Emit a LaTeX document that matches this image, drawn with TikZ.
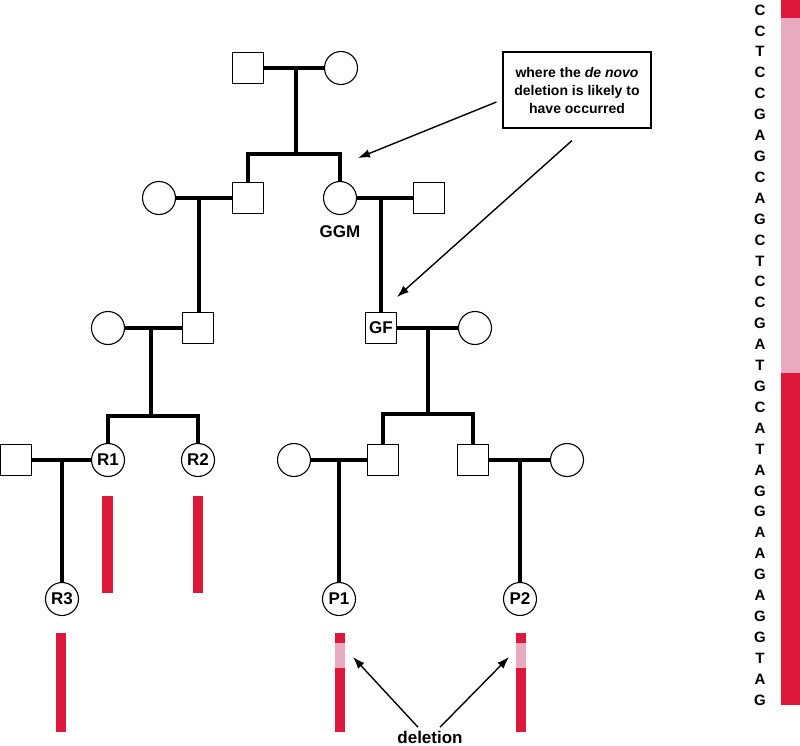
\documentclass[tikz,border=0pt]{standalone}
\usepackage{fontspec}
\setmainfont{Liberation Sans}
\usetikzlibrary{arrows.meta, calc}
\definecolor{segred}{RGB}{221,24,58}
\definecolor{segpink}{RGB}{233,170,192}

\begin{document}
\begin{tikzpicture}[
    x=1pt, y=-1pt,
    >={Latex[length=12pt,width=8.5pt]},
    every node/.style={font=\bfseries\fontsize{17}{18}\selectfont},
    male/.style={draw, line width=1.1pt, rectangle, minimum size=31pt, inner sep=0pt},
    female/.style={draw, line width=1.1pt, circle, minimum size=33pt, inner sep=0pt},
    ped/.style={line width=4pt},
    arr/.style={->, line width=1.4pt},
    base/.style={font=\bfseries\fontsize{15}{16}\selectfont, inner sep=0pt},
]
\useasboundingbox (0,0) rectangle (800,746);
% generation I
\node[male] (I1) at (248,68) {};
\node[female] (I2) at (341,68) {};
% generation II
\node[female] (II1) at (159,198) {};
\node[male] (II2) at (248,198) {};
\node[female] (GGM) at (340,198) {};
\node[male] (II4) at (429,198) {};
\node (GGMlab) at (340,232) {GGM};
% generation III
\node[female] (III1) at (108,328) {};
\node[male] (III2) at (198,328) {};
\node[male] (GF) at (381,328) {GF};
\node[female] (III4) at (475,328) {};
% generation IV
\node[male] (IV1) at (16,460) {};
\node[female] (R1) at (108,460) {R1};
\node[female] (R2) at (198,460) {R2};
\node[female] (IV4) at (294,460) {};
\node[male] (IV5) at (383,460) {};
\node[male] (IV6) at (473,460) {};
\node[female] (IV7) at (567,460) {};
% generation V
\node[female] (R3) at (62,599) {R3};
\node[female] (P1) at (339,599) {P1};
\node[female] (P2) at (520,599) {P2};

% couples, sibships and descent lines
\draw[ped] (I1) -- (I2);
\coordinate (m1) at ($(I1)!0.52!(I2)$);
\draw[ped] (m1) -- ++(0,86) coordinate (s1);
\draw[ped] (II2.north) |- (s1) -| (GGM.north);
\draw[ped] (II1) -- (II2);
\coordinate (m2) at ($(II1)!0.45!(II2)$);
\draw[ped] (m2) -- (m2 |- III2.north);
\draw[ped] (GGM) -- (II4);
\coordinate (m3) at ($(GGM)!0.46!(II4)$);
\draw[ped] (m3) -- (m3 |- GF.north);
\draw[ped] (III1) -- (III2);
\coordinate (m4) at ($(III1)!0.48!(III2)$);
\draw[ped] (m4) -- ++(0,88) coordinate (s4);
\draw[ped] (R1.north) |- (s4) -| (R2.north);
\draw[ped] (GF) -- (III4);
\coordinate (m5) at ($(GF)!0.5!(III4)$);
\draw[ped] (m5) -- ++(0,86) coordinate (s5);
\draw[ped] (IV5.north) |- (s5) -| (IV6.north);
\draw[ped] (IV1) -- (R1);
\coordinate (m6) at ($(IV1)!0.5!(R1)$);
\draw[ped] (m6) -- (m6 |- R3.north);
\draw[ped] (IV4) -- (IV5);
\coordinate (m7) at ($(IV4)!0.5!(IV5)$);
\draw[ped] (m7) -- (m7 |- P1.north);
\draw[ped] (IV6) -- (IV7);
\coordinate (m8) at ($(IV6)!0.5!(IV7)$);
\draw[ped] (m8) -- (m8 |- P2.north);

% chromosome segments
\fill[segred] (102,496) rectangle (113,593);
\fill[segred] (193,496) rectangle (203,593);
\fill[segred] (56,633) rectangle (66,732);
\foreach \x in {340,521} {
  \fill[segred] (\x-5,633) rectangle (\x+5,643);
  \fill[segpink] (\x-5,643) rectangle (\x+5,668);
  \fill[segred] (\x-5,668) rectangle (\x+5,732);
}

% sequence on the right
\fill[segred] (781,0) rectangle (800,18);
\fill[segpink] (781,18) rectangle (800,373);
\fill[segred] (781,373) rectangle (800,705);
\foreach \b [count=\i from 0] in {C,C,T,C,C,G,A,G,C,A,G,C,T,C,C,G,A,T,G,C,A,T,A,G,G,A,A,G,A,G,G,T,A,G}
  \node[base] at (760,{10+20.909*\i}) {\b};

% annotation
\node[draw, line width=1.1pt, align=center, font=\bfseries\fontsize{14}{18}\selectfont,
      minimum width=148pt, minimum height=76pt] (note) at (577,90)
      {where the \textit{de novo}\\deletion is likely to\\have occurred};
\coordinate (toSib) at (358,158);
\coordinate (toGF) at (397,297);
\draw[arr] ([shift={(-6,12)}]note.west) -- (toSib);
\draw[arr] ([shift={(-5,12)}]note.south) -- (toGF);

\node[font=\bfseries\fontsize{17}{18}\selectfont] (del) at (430,737) {deletion};
\coordinate (delP1) at (353,657);
\coordinate (delP2) at (509,657);
\draw[arr] ([xshift=-12pt]del.north) -- (delP1);
\draw[arr] ([xshift=10pt]del.north) -- (delP2);
\end{tikzpicture}
\end{document}
